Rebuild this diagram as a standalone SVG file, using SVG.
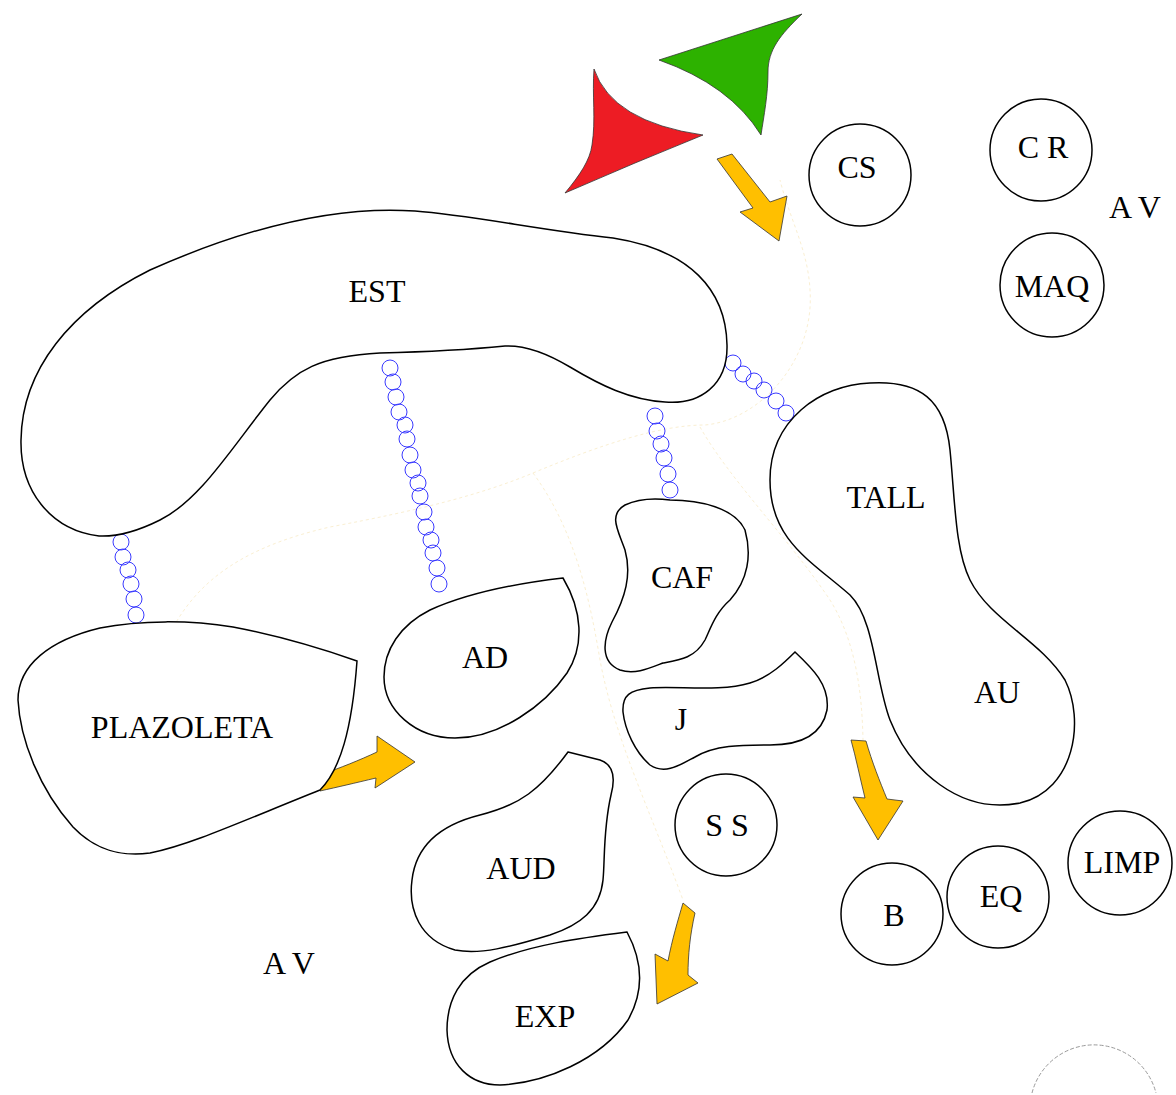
<svg xmlns="http://www.w3.org/2000/svg" width="1176" height="1095" viewBox="0 0 1176 1095">
<style>
.blob{fill:#fff;stroke:#000;stroke-width:1.5}
.lbl{font-family:"Liberation Serif","Times New Roman",serif;font-size:32px;fill:#000;text-anchor:middle}
.ch{fill:none;stroke:#3a3aff;stroke-width:1}
.arr{fill:#FFBF00;stroke:#333;stroke-width:0.8}
.faint{fill:none;stroke:#FAEFD2;stroke-width:1;stroke-dasharray:3 3}
</style>
<rect width="1176" height="1095" fill="#fff"/>
<g id="connectors">
<path class="faint" d="M188 637 L165 643 C190 590 230 550 330 527 C420 510 480 495 533 473 C600 445 660 425 705 425 C760 420 815 360 810 290 C808 250 790 220 780 180"/>
<path class="faint" d="M533 473 C575 530 590 600 600 660 C615 740 650 810 683 900"/>
<path class="faint" d="M700 427 C730 480 790 540 830 600 C855 640 862 690 863 740"/>
<g id="chain1">
<circle class="ch" cx="121" cy="542" r="8"/><circle class="ch" cx="123" cy="557" r="8"/><circle class="ch" cx="128" cy="570" r="8"/><circle class="ch" cx="131" cy="584" r="8"/><circle class="ch" cx="134" cy="599" r="8"/><circle class="ch" cx="136" cy="615" r="8"/>
</g>
<g id="chain2">
<circle class="ch" cx="390" cy="368" r="8"/><circle class="ch" cx="393" cy="382" r="8"/><circle class="ch" cx="396" cy="397" r="8"/><circle class="ch" cx="399" cy="412" r="8"/><circle class="ch" cx="405" cy="425" r="8"/><circle class="ch" cx="407" cy="439" r="8"/><circle class="ch" cx="410" cy="455" r="8"/><circle class="ch" cx="413" cy="470" r="8"/><circle class="ch" cx="418" cy="483" r="8"/><circle class="ch" cx="420" cy="496" r="8"/><circle class="ch" cx="424" cy="512" r="8"/><circle class="ch" cx="426" cy="527" r="8"/><circle class="ch" cx="431" cy="540" r="8"/><circle class="ch" cx="433" cy="553" r="8"/><circle class="ch" cx="437" cy="568" r="8"/><circle class="ch" cx="439" cy="584" r="8"/>
</g>
<g id="chain3">
<circle class="ch" cx="655" cy="416" r="8"/><circle class="ch" cx="657" cy="431" r="8"/><circle class="ch" cx="661" cy="444" r="8"/><circle class="ch" cx="664" cy="458" r="8"/><circle class="ch" cx="668" cy="474" r="8"/><circle class="ch" cx="670" cy="490" r="8"/>
</g>
<g id="chain4">
<circle class="ch" cx="733" cy="363" r="8"/><circle class="ch" cx="743" cy="374" r="8"/><circle class="ch" cx="754" cy="381" r="8"/><circle class="ch" cx="764" cy="390" r="8"/><circle class="ch" cx="776" cy="401" r="8"/><circle class="ch" cx="786" cy="413" r="8"/>
</g>
<polygon class="arr" points="717,159 732,154 770,202 787,196 779,241 740,212 753,208"/>
<path class="arr" d="M320 775 C340 768 360 760 377 752 L377 736 L415 762 L375 788 L376 778 C355 783 338 787 320 791 Z"/>
<path class="arr" d="M683 903 L695 913 C690 935 688 955 688 975 L698 983 L657 1004 L655 954 L668 961 C672 940 678 920 683 903 Z"/>
<path class="arr" d="M851 740 L866 741 C872 762 880 782 887 799 L903 801 L878 840 L853 797 L865 798 C860 778 856 758 851 740 Z"/>
</g>
<g id="red-shape"><path d="M594 69 Q612 122 703 135 Q636 162 565 193 C580 175 590 160 592 145 C596 120 592 95 594 69 Z" fill="#ED1C24" stroke="#333" stroke-width="0.8"/></g>
<g id="green-shape"><path d="M659 60 L802 14 C780 35 768 50 768 72 C768 95 764 115 761 135 Q730 85 659 60 Z" fill="#2DB200" stroke="#333" stroke-width="0.8"/></g>
<g id="EST"><path class="blob" d="M99 536 C50 530 20 490 21 440 C22 370 70 310 150 270 C240 230 330 205 415 211 C470 215 540 230 613 238 C690 250 726 290 727 345 C728 385 700 405 665 402 C630 400 600 385 570 367 C545 352 525 345 505 346 C465 350 420 352 380 353 C320 356 295 370 270 400 C230 450 200 500 160 520 C140 530 120 537 99 536 Z"/><text class="lbl" x="377" y="302">EST</text></g>
<g id="PLAZOLETA"><path class="blob" d="M357 661 C320 648 280 636 233 627 C190 620 140 620 100 628 C50 640 18 665 18 700 C20 740 40 790 73 827 C95 850 120 857 150 853 C190 845 240 822 320 790 C340 770 352 730 357 661 Z"/><text class="lbl" x="182" y="738">PLAZOLETA</text></g>
<g id="AD"><path class="blob" d="M563 578 C520 583 470 592 430 610 C400 625 384 650 384 677 C384 710 415 738 455 738 C500 738 545 705 567 673 C585 645 582 610 563 578 Z"/><text class="lbl" x="485" y="668">AD</text></g>
<g id="CAF"><path class="blob" d="M670 500 C700 500 735 508 745 530 C752 555 748 580 730 600 C715 613 710 630 705 640 C695 658 680 660 663 663 C650 668 635 675 620 670 C600 662 603 640 612 622 C625 598 632 575 625 550 C618 530 608 515 625 505 C640 498 655 498 670 500 Z"/><text class="lbl" x="682" y="588">CAF</text></g>
<g id="J"><path class="blob" d="M795 652 C812 668 830 685 827 710 C822 735 800 745 770 745 C740 745 715 745 695 757 C680 765 665 775 650 765 C635 752 625 730 623 712 C622 695 630 690 650 688 C680 686 720 692 750 683 C770 677 785 662 795 652 Z"/><text class="lbl" x="681" y="730">J</text></g>
<g id="TALL"><path class="blob" d="M870 383 C920 380 945 400 950 450 C955 500 955 550 970 580 C990 620 1040 640 1065 680 C1085 720 1075 790 1020 803 C960 815 910 770 890 720 C875 680 875 620 850 595 C810 560 770 540 770 480 C770 420 820 385 870 383 Z"/><text class="lbl" x="886" y="508">TALL</text><text class="lbl" x="997" y="703">AU</text></g>
<g id="AUD"><path class="blob" d="M568 752 L600 760 C615 765 615 780 611 795 C603 830 605 860 603 880 C600 910 580 925 550 935 C510 947 480 955 455 950 C420 940 408 910 412 880 C416 845 440 825 480 815 C520 805 540 790 568 752 Z"/><text class="lbl" x="521" y="879">AUD</text></g>
<g id="EXP"><path class="blob" d="M627 932 C580 938 530 945 490 962 C460 975 447 1000 447 1030 C448 1065 470 1085 500 1085 C545 1083 600 1060 628 1020 C645 990 642 960 627 932 Z"/><text class="lbl" x="545" y="1027">EXP</text></g>
<g id="CS"><circle class="blob" cx="860" cy="175" r="51"/><text class="lbl" x="857" y="178">CS</text></g>
<g id="CR"><circle class="blob" cx="1041" cy="150" r="51"/><text class="lbl" x="1043" y="158">C R</text></g>
<g id="MAQ"><circle class="blob" cx="1052" cy="285" r="52"/><text class="lbl" x="1052" y="297">MAQ</text></g>
<g id="SS"><circle class="blob" cx="726" cy="825" r="51"/><text class="lbl" x="727" y="836">S S</text></g>
<g id="B"><circle class="blob" cx="892" cy="914" r="51"/><text class="lbl" x="894" y="926">B</text></g>
<g id="EQ"><circle class="blob" cx="998" cy="897" r="51"/><text class="lbl" x="1001" y="907">EQ</text></g>
<g id="LIMP"><circle class="blob" cx="1120" cy="863" r="52"/><text class="lbl" x="1122" y="873">LIMP</text></g>
<g id="AV1"><text class="lbl" x="1135" y="218">A V</text></g>
<g id="AV2"><text class="lbl" x="289" y="974">A V</text></g>
<g id="arc"><path d="M1032 1093 A64 64 0 0 1 1156 1093" fill="none" stroke="#999" stroke-width="1" stroke-dasharray="4 2"/></g>
</svg>
